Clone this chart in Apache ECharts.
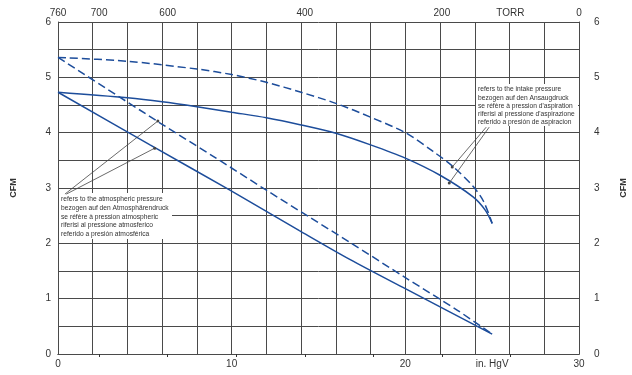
<!DOCTYPE html>
<html>
<head>
<meta charset="utf-8">
<script src="https://cdn.jsdelivr.net/npm/echarts@6.0.0/dist/echarts.min.js"></script>
<style>
html, body { margin: 0; padding: 0; background: #fff; }
#chart { width: 632px; height: 375px; }
</style>
</head>
<body>
<div id="chart"></div>
<script>
const FONT = '"Liberation Sans", Arial, sans-serif';

// axis labels
const hgLabels = [0, 10, 20, 25, 30];
const torrLabels = [760, 700, 600, 400, 200, 100, 0];
const torrTicks = [700, 600, 500, 400, 300, 200, 100];
const cfmLabels = [0, 1, 2, 3, 4, 5, 6];

// curves [in. HgV, CFM]
const intakeDashed = [[0, 5.36], [4, 5.29], [8, 5.15], [10, 5.05], [12, 4.91], [14, 4.73], [16, 4.53],
    [18, 4.28], [20, 4.0], [21.6, 3.66], [22.7, 3.40], [23.9, 3.03], [24.5, 2.76], [25, 2.36]];
const intakeSolid = [[0, 4.73], [4, 4.63], [6, 4.56], [8, 4.47], [10, 4.37], [12, 4.27], [14, 4.14],
    [16, 3.99], [18, 3.78], [20, 3.54], [22, 3.23], [23.9, 2.84], [24.6, 2.60], [25, 2.36]];
const atmDashed = [[0, 5.36], [5.9, 4.17], [9.1, 3.54], [12, 2.96], [14.5, 2.47], [16.8, 2.02],
    [20, 1.38], [23, 0.79], [25, 0.36]];
const atmSolid = [[0, 4.73], [5.3, 3.78], [9.9, 2.96], [13.9, 2.23], [16.8, 1.71], [20, 1.18], [25, 0.36]];

// leader lines of the notes
const intakeLeaders = [[[24.66, 4.10], [22.7, 3.38]], [[24.83, 4.10], [22.53, 3.09]]];
const atmLeaders = [[[0.40, 2.89], [5.75, 4.21]], [[0.48, 2.89], [5.57, 3.72]]];

const intakeNote = [
    'refers to the intake pressure',
    'bezogen auf den Ansaugdruck',
    'se réfère à pression d\'aspiration',
    'riferisi al pressione d\'aspirazione',
    'referido a presión de aspiracion'
];
const atmNote = [
    'refers to the atmospheric pressure',
    'bezogen auf den Atmosphärendruck',
    'se réfère à pression atmospheric',
    'riferisi al pressione atmosferico',
    'referido a presión atmosférica'
];

const blue = '#1d4d9b';
const gridColor = '#4a4a4a';
const labelStyle = { color: '#333', fontSize: 10, fontFamily: FONT };

function curve(data, dashed) {
    return {
        type: 'line',
        data: data,
        smooth: 0.3,
        symbol: 'none',
        lineStyle: { color: blue, width: 1.5, type: dashed ? [8, 4] : 'solid' },
        z: 3
    };
}

function leader(data) {
    return {
        type: 'line',
        data: data,
        symbol: 'circle',
        symbolSize: (v, p) => (p.dataIndex === 1 ? 3 : 0),
        itemStyle: { color: '#444' },
        lineStyle: { color: '#444', width: 0.8 },
        z: 4
    };
}

const chart = echarts.init(document.getElementById('chart'));

chart.setOption({
    animation: false,
    grid: { left: 58, right: 53, top: 22, bottom: 21, outerBoundsMode: 'none' },
    xAxis: [
        {
            type: 'value',
            min: 0,
            max: 30,
            interval: 2,
            position: 'bottom',
            axisLine: { lineStyle: { color: gridColor } },
            axisTick: { show: false },
            axisLabel: Object.assign({
                margin: 5,
                customValues: hgLabels,
                formatter: v => (v === 25 ? 'in. HgV' : String(v))
            }, labelStyle),
            splitLine: { show: true, lineStyle: { color: gridColor, width: 1 } }
        },
        {
            type: 'value',
            min: 0,
            max: 760,
            inverse: true,
            position: 'top',
            axisLine: { lineStyle: { color: gridColor } },
            axisTick: { show: true, inside: true, length: 3, customValues: torrTicks, lineStyle: { color: '#333' } },
            axisLabel: Object.assign({
                margin: 4,
                customValues: torrLabels,
                formatter: v => (v === 100 ? 'TORR' : String(v))
            }, labelStyle),
            splitLine: { show: false }
        }
    ],
    yAxis: [
        {
            type: 'value',
            min: 0,
            max: 6,
            interval: 0.5,
            position: 'left',
            name: 'CFM',
            nameLocation: 'middle',
            nameGap: 40,
            nameRotate: 90,
            nameTextStyle: { color: '#333', fontSize: 9, fontWeight: 'bold', fontFamily: FONT },
            axisLine: { show: true, lineStyle: { color: gridColor } },
            axisTick: { show: false },
            axisLabel: Object.assign({ margin: 7, customValues: cfmLabels }, labelStyle),
            splitLine: { show: true, lineStyle: { color: gridColor, width: 1 } }
        },
        {
            type: 'value',
            min: 0,
            max: 6,
            interval: 0.5,
            position: 'right',
            name: 'CFM',
            nameLocation: 'middle',
            nameGap: 40,
            nameRotate: 90,
            nameTextStyle: { color: '#333', fontSize: 9, fontWeight: 'bold', fontFamily: FONT },
            axisLine: { show: true, lineStyle: { color: gridColor } },
            axisTick: { show: false },
            axisLabel: Object.assign({ margin: 15, customValues: cfmLabels }, labelStyle),
            splitLine: { show: false }
        }
    ],
    graphic: [
        { type: 'rect', left: 476, top: 84, z: 1, shape: { width: 102, height: 42 }, style: { fill: '#fff' } },
        {
            type: 'text', x: 478, y: 85, z: 1, scaleX: 0.89,
            style: { text: intakeNote.join('\n'), fill: '#333', font: '7.5px ' + FONT, lineHeight: 8.3 }
        },
        { type: 'rect', left: 59, top: 193, z: 1, shape: { width: 113, height: 46 }, style: { fill: '#fff' } },
        {
            type: 'text', x: 61, y: 195, z: 1, scaleX: 0.89,
            style: { text: atmNote.join('\n'), fill: '#333', font: '7.5px ' + FONT, lineHeight: 8.6 }
        }
    ],
    series: [
        curve(intakeDashed, true),
        curve(intakeSolid, false),
        curve(atmDashed, true),
        curve(atmSolid, false),
        leader(intakeLeaders[0]),
        leader(intakeLeaders[1]),
        leader(atmLeaders[0]),
        leader(atmLeaders[1])
    ]
});
</script>
</body>
</html>
